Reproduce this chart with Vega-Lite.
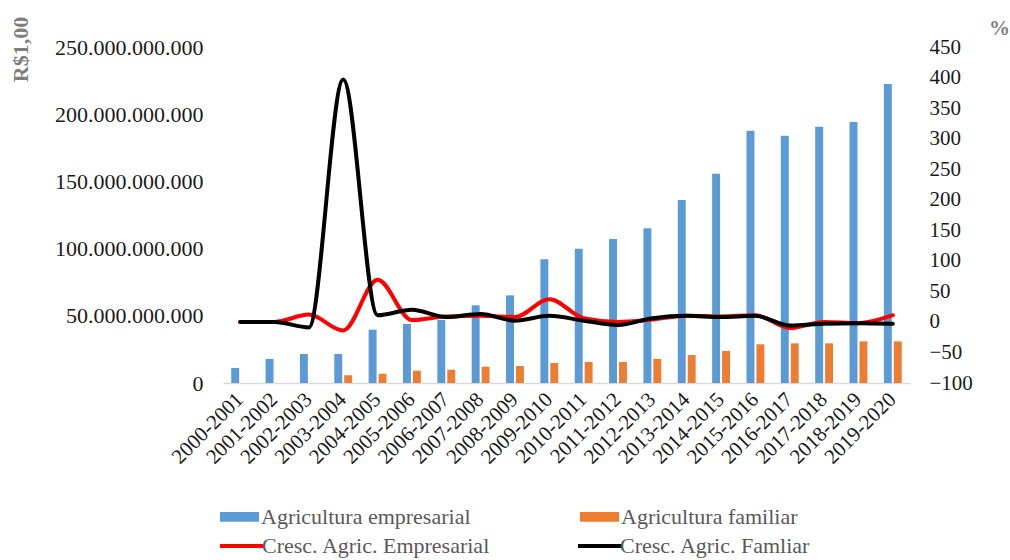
{
  "$schema": "https://vega.github.io/schema/vega-lite/v6.json",
  "width": 687,
  "height": 336,
  "autosize": {"type": "none"},
  "padding": {"left": 223, "top": 47, "right": 100, "bottom": 177},
  "background": "white",
  "config": {
    "locale": {"number": {"decimal": ",", "thousands": ".", "grouping": [3], "currency": ["R$", ""]}},
    "view": {"stroke": null},
    "font": "Liberation Serif",
    "axis": {"grid": false, "labelFont": "Liberation Serif", "titleFont": "Liberation Serif"},
    "legend": {"labelFont": "Liberation Serif"}
  },
  "datasets": {
    "barras": [
      {"periodo": "2000-2001", "serie": "Agricultura empresarial", "valor": 11200000000},
      {"periodo": "2001-2002", "serie": "Agricultura empresarial", "valor": 17900000000},
      {"periodo": "2002-2003", "serie": "Agricultura empresarial", "valor": 21600000000},
      {"periodo": "2003-2004", "serie": "Agricultura empresarial", "valor": 21600000000},
      {"periodo": "2004-2005", "serie": "Agricultura empresarial", "valor": 39700000000},
      {"periodo": "2005-2006", "serie": "Agricultura empresarial", "valor": 43900000000},
      {"periodo": "2006-2007", "serie": "Agricultura empresarial", "valor": 46900000000},
      {"periodo": "2007-2008", "serie": "Agricultura empresarial", "valor": 57800000000},
      {"periodo": "2008-2009", "serie": "Agricultura empresarial", "valor": 65200000000},
      {"periodo": "2009-2010", "serie": "Agricultura empresarial", "valor": 92000000000},
      {"periodo": "2010-2011", "serie": "Agricultura empresarial", "valor": 99900000000},
      {"periodo": "2011-2012", "serie": "Agricultura empresarial", "valor": 107100000000},
      {"periodo": "2012-2013", "serie": "Agricultura empresarial", "valor": 115100000000},
      {"periodo": "2013-2014", "serie": "Agricultura empresarial", "valor": 136200000000},
      {"periodo": "2014-2015", "serie": "Agricultura empresarial", "valor": 155700000000},
      {"periodo": "2015-2016", "serie": "Agricultura empresarial", "valor": 187700000000},
      {"periodo": "2016-2017", "serie": "Agricultura empresarial", "valor": 184000000000},
      {"periodo": "2017-2018", "serie": "Agricultura empresarial", "valor": 190700000000},
      {"periodo": "2018-2019", "serie": "Agricultura empresarial", "valor": 194200000000},
      {"periodo": "2019-2020", "serie": "Agricultura empresarial", "valor": 222500000000},
      {"periodo": "2003-2004", "serie": "Agricultura familiar", "valor": 5700000000},
      {"periodo": "2004-2005", "serie": "Agricultura familiar", "valor": 6900000000},
      {"periodo": "2005-2006", "serie": "Agricultura familiar", "valor": 9200000000},
      {"periodo": "2006-2007", "serie": "Agricultura familiar", "valor": 9900000000},
      {"periodo": "2007-2008", "serie": "Agricultura familiar", "valor": 12100000000},
      {"periodo": "2008-2009", "serie": "Agricultura familiar", "valor": 12700000000},
      {"periodo": "2009-2010", "serie": "Agricultura familiar", "valor": 14900000000},
      {"periodo": "2010-2011", "serie": "Agricultura familiar", "valor": 15600000000},
      {"periodo": "2011-2012", "serie": "Agricultura familiar", "valor": 15600000000},
      {"periodo": "2012-2013", "serie": "Agricultura familiar", "valor": 17900000000},
      {"periodo": "2013-2014", "serie": "Agricultura familiar", "valor": 20800000000},
      {"periodo": "2014-2015", "serie": "Agricultura familiar", "valor": 23800000000},
      {"periodo": "2015-2016", "serie": "Agricultura familiar", "valor": 28800000000},
      {"periodo": "2016-2017", "serie": "Agricultura familiar", "valor": 29500000000},
      {"periodo": "2017-2018", "serie": "Agricultura familiar", "valor": 29500000000},
      {"periodo": "2018-2019", "serie": "Agricultura familiar", "valor": 31000000000},
      {"periodo": "2019-2020", "serie": "Agricultura familiar", "valor": 31000000000}
    ],
    "linhas": [
      {"periodo": "2000-2001", "serie": "Cresc. Agric. Empresarial", "pct": 0},
      {"periodo": "2001-2002", "serie": "Cresc. Agric. Empresarial", "pct": 0},
      {"periodo": "2002-2003", "serie": "Cresc. Agric. Empresarial", "pct": 12},
      {"periodo": "2003-2004", "serie": "Cresc. Agric. Empresarial", "pct": -14},
      {"periodo": "2004-2005", "serie": "Cresc. Agric. Empresarial", "pct": 69},
      {"periodo": "2005-2006", "serie": "Cresc. Agric. Empresarial", "pct": 3},
      {"periodo": "2006-2007", "serie": "Cresc. Agric. Empresarial", "pct": 9},
      {"periodo": "2007-2008", "serie": "Cresc. Agric. Empresarial", "pct": 10},
      {"periodo": "2008-2009", "serie": "Cresc. Agric. Empresarial", "pct": 8},
      {"periodo": "2009-2010", "serie": "Cresc. Agric. Empresarial", "pct": 37},
      {"periodo": "2010-2011", "serie": "Cresc. Agric. Empresarial", "pct": 6},
      {"periodo": "2011-2012", "serie": "Cresc. Agric. Empresarial", "pct": 0},
      {"periodo": "2012-2013", "serie": "Cresc. Agric. Empresarial", "pct": 4},
      {"periodo": "2013-2014", "serie": "Cresc. Agric. Empresarial", "pct": 10},
      {"periodo": "2014-2015", "serie": "Cresc. Agric. Empresarial", "pct": 9},
      {"periodo": "2015-2016", "serie": "Cresc. Agric. Empresarial", "pct": 11},
      {"periodo": "2016-2017", "serie": "Cresc. Agric. Empresarial", "pct": -10},
      {"periodo": "2017-2018", "serie": "Cresc. Agric. Empresarial", "pct": 0},
      {"periodo": "2018-2019", "serie": "Cresc. Agric. Empresarial", "pct": -2},
      {"periodo": "2019-2020", "serie": "Cresc. Agric. Empresarial", "pct": 11},
      {"periodo": "2000-2001", "serie": "Cresc. Agric. Famliar", "pct": 0},
      {"periodo": "2001-2002", "serie": "Cresc. Agric. Famliar", "pct": 0},
      {"periodo": "2002-2003", "serie": "Cresc. Agric. Famliar", "pct": -9},
      {"periodo": "2003-2004", "serie": "Cresc. Agric. Famliar", "pct": 397},
      {"periodo": "2004-2005", "serie": "Cresc. Agric. Famliar", "pct": 11},
      {"periodo": "2005-2006", "serie": "Cresc. Agric. Famliar", "pct": 20},
      {"periodo": "2006-2007", "serie": "Cresc. Agric. Famliar", "pct": 8},
      {"periodo": "2007-2008", "serie": "Cresc. Agric. Famliar", "pct": 13},
      {"periodo": "2008-2009", "serie": "Cresc. Agric. Famliar", "pct": 2},
      {"periodo": "2009-2010", "serie": "Cresc. Agric. Famliar", "pct": 10},
      {"periodo": "2010-2011", "serie": "Cresc. Agric. Famliar", "pct": 2},
      {"periodo": "2011-2012", "serie": "Cresc. Agric. Famliar", "pct": -5},
      {"periodo": "2012-2013", "serie": "Cresc. Agric. Famliar", "pct": 6},
      {"periodo": "2013-2014", "serie": "Cresc. Agric. Famliar", "pct": 10},
      {"periodo": "2014-2015", "serie": "Cresc. Agric. Famliar", "pct": 8},
      {"periodo": "2015-2016", "serie": "Cresc. Agric. Famliar", "pct": 10},
      {"periodo": "2016-2017", "serie": "Cresc. Agric. Famliar", "pct": -6},
      {"periodo": "2017-2018", "serie": "Cresc. Agric. Famliar", "pct": -3},
      {"periodo": "2018-2019", "serie": "Cresc. Agric. Famliar", "pct": -2},
      {"periodo": "2019-2020", "serie": "Cresc. Agric. Famliar", "pct": -3}
    ]
  },
  "encoding": {
    "x": {
      "field": "periodo",
      "type": "nominal",
      "sort": null,
      "scale": {"paddingInner": 0.48, "paddingOuter": 0.24},
      "axis": {
        "title": null,
        "labelAngle": -45,
        "labelAlign": "right",
        "labelBaseline": "middle",
        "labelPadding": 13,
        "labelFontSize": 21,
        "labelColor": "#1a1a1a",
        "ticks": false,
        "domainColor": "#d9d9d9",
        "domainWidth": 1.5
      }
    }
  },
  "layer": [
    {
      "data": {"name": "barras"},
      "mark": {"type": "bar"},
      "encoding": {
        "xOffset": {"field": "serie", "type": "nominal", "scale": {"domain": ["Agricultura empresarial", "Agricultura familiar"], "paddingInner": 0.2}},
        "y": {
          "field": "valor",
          "type": "quantitative",
          "scale": {"domain": [0, 250000000000], "nice": false},
          "axis": {
            "orient": "left",
            "title": "R$1,00",
            "titleX": -203,
            "titleY": 2,
            "titleAngle": -90,
            "titleAlign": "center",
            "titleBaseline": "middle",
            "titleFontSize": 22,
            "titleFontWeight": "bold",
            "titleColor": "#7f7f7f",
            "values": [0, 50000000000, 100000000000, 150000000000, 200000000000, 250000000000],
            "format": ",.0f",
            "labelFontSize": 22,
            "labelColor": "#1a1a1a",
            "labelPadding": 20,
            "domain": false,
            "ticks": false
          }
        },
        "fill": {
          "field": "serie",
          "type": "nominal",
          "scale": {"domain": ["Agricultura empresarial", "Agricultura familiar"], "range": ["#5b9bd5", "#ed7d31"]},
          "legend": {
            "title": null,
            "orient": "none",
            "legendX": -3,
            "legendY": 450,
            "direction": "horizontal",
            "columns": 2,
            "columnPadding": 109,
            "symbolType": "M-1,-0.25H1V0.25H-1Z",
            "symbolSize": 1521,
            "symbolStrokeWidth": 0,
            "labelOffset": 2,
            "labelFontSize": 22,
            "labelColor": "#595959",
            "labelLimit": 400
          }
        }
      }
    },
    {
      "data": {"name": "linhas"},
      "mark": {"type": "line", "interpolate": "monotone", "strokeWidth": 4, "strokeCap": "round"},
      "encoding": {
        "y": {
          "field": "pct",
          "type": "quantitative",
          "scale": {"domain": [-100, 450], "nice": false},
          "axis": {
            "orient": "right",
            "title": "%",
            "titleX": 89,
            "titleY": -19,
            "titleAngle": 0,
            "titleAlign": "center",
            "titleBaseline": "middle",
            "titleFontSize": 21,
            "titleFontWeight": "bold",
            "titleColor": "#7f7f7f",
            "values": [-100, -50, 0, 50, 100, 150, 200, 250, 300, 350, 400, 450],
            "format": "d",
            "labelFontSize": 21,
            "labelColor": "#1a1a1a",
            "labelPadding": 19,
            "domain": false,
            "ticks": false
          }
        },
        "stroke": {
          "field": "serie",
          "type": "nominal",
          "scale": {"domain": ["Cresc. Agric. Empresarial", "Cresc. Agric. Famliar"], "range": ["#ff0000", "#000000"]},
          "legend": {
            "title": null,
            "orient": "none",
            "legendX": -5,
            "legendY": 475,
            "direction": "horizontal",
            "columns": 2,
            "columnPadding": 79,
            "symbolType": "stroke",
            "symbolSize": 1936,
            "symbolStrokeWidth": 4,
            "labelOffset": -4,
            "labelFontSize": 22,
            "labelColor": "#595959",
            "labelLimit": 400
          }
        }
      }
    }
  ],
  "resolve": {"scale": {"y": "independent"}}
}
